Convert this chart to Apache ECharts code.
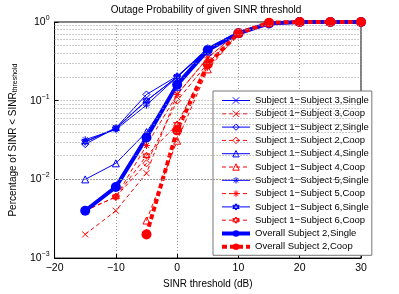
<!DOCTYPE html>
<html><head><meta charset="utf-8">
<script src="https://cdn.jsdelivr.net/npm/echarts@6/dist/echarts.min.js"></script>
<style>html,body{margin:0;padding:0;background:#fff}#c{width:399px;height:294px}</style>
</head><body><div id="c"></div>
<script>
const snr = [-15, -10, -5, 0, 5, 10, 15, 20, 25, 30];
const s3Single = [0.030, 0.045, 0.100, 0.200, 0.45, 0.75, 0.97, 1, 1, 1];
const s3Coop   = [0.002, 0.004, 0.012, 0.120, 0.35, 0.75, 0.97, 1, 1, 1];
const s2Single = [0.028, 0.045, 0.120, 0.205, 0.45, 0.75, 0.97, 1, 1, 1];
const s2Coop   = [null,  0.006, 0.016, 0.100, 0.30, 0.72, 0.97, 1, 1, 1];
const s4Single = [0.010, 0.016, 0.040, 0.150, 0.42, 0.72, 0.97, 1, 1, 1];
const s4Coop   = [null,  null,  0.003, 0.031, 0.25, 0.72, 0.97, 1, 1, 1];
const s5Single = [0.032, 0.043, 0.088, 0.200, 0.47, 0.75, 0.97, 1, 1, 1];
const s5Coop   = [0.004, 0.006, 0.027, 0.120, 0.35, 0.75, 0.97, 1, 1, 1];
const s6Single = [0.030, 0.044, 0.100, 0.200, 0.45, 0.75, 0.97, 1, 1, 1];
const s6Coop   = [0.004, 0.006, 0.020, 0.050, 0.30, 0.72, 0.97, 1, 1, 1];
const allSingle = [0.004, 0.008, 0.034, 0.160, 0.44, 0.72, 0.96, 1, 1, 1];
const allCoop   = [null,  null,  0.002, 0.042, 0.29, 0.72, 0.98, 1, 1, 1];
const xTicks = [-20, -10, 0, 10, 20, 30];
const yDecades = [0.001, 0.01, 0.1, 1];

const BLUE = '#0000ff', RED = '#ff0000';
const FONT = 'Liberation Sans';
const SYM = {
  cross: 'path://M0,0L10,10M10,0L0,10',
  aster: 'path://M5,0L5,10M0,5L10,5M1.5,1.5L8.5,8.5M8.5,1.5L1.5,8.5',
  hexa: 'path://M5,0L9.33,7.5L0.67,7.5ZM5,10L0.67,2.5L9.33,2.5Z'
};
function pts(arr){ return snr.map((x,i)=>[x, arr[i]]); }
function dashOf(dashed, width){ return dashed ? (width>2 ? [5,3] : [4,3]) : 'solid'; }
function mk(name, arr, color, dashed, symbol, size, width, filled){
  return {
    name, type:'line', data: pts(arr), color, clip:false, connectNulls:false,
    symbol, symbolSize: size,
    lineStyle:{color, width, type: dashOf(dashed, width)},
    itemStyle: filled ? {color, borderColor: color, borderWidth:0}
                      : {color: 'rgba(0,0,0,0)', borderColor: color, borderWidth: 1},
    emphasis:{disabled:true}
  };
}
const minor = [];
for (let d = 0; d < 3; d++) for (let k = 2; k <= 9; k++) minor.push(k * yDecades[d]);

const names = [
 'Subject 1\u2212Subject 3,Single','Subject 1\u2212Subject 3,Coop',
 'Subject 1\u2212Subject 2,Single','Subject 1\u2212Subject 2,Coop',
 'Subject 1\u2212Subject 4,Single','Subject 1\u2212Subject 4,Coop',
 'Subject 1\u2212Subject 5,Single','Subject 1\u2212Subject 5,Coop',
 'Subject 1\u2212Subject 6,Single','Subject 1\u2212Subject 6,Coop',
 'Overall Subject 2,Single','Overall Subject 2,Coop'];
const defs = [
  [s3Single, BLUE, false, SYM.cross, 6, 1, false],
  [s3Coop,   RED,  true,  SYM.cross, 6, 1, false],
  [s2Single, BLUE, false, 'diamond', 7, 1, false],
  [s2Coop,   RED,  true,  'diamond', 7, 1, false],
  [s4Single, BLUE, false, 'triangle', 7, 1, false],
  [s4Coop,   RED,  true,  'triangle', 7, 1, false],
  [s5Single, BLUE, false, SYM.aster, 7, 1, false],
  [s5Coop,   RED,  true,  SYM.aster, 7, 1, false],
  [s6Single, BLUE, false, SYM.hexa, 7, 1, false],
  [s6Coop,   RED,  true,  SYM.hexa, 7, 1, false],
  [allSingle, BLUE, false, 'circle', 10, 4, true],
  [allCoop,   RED,  true,  'circle', 10, 4, true]
];

const series = [
  {type:'line', data:[], silent:true, markLine:{silent:true, animation:false, symbol:['none','none'], label:{show:false},
    lineStyle:{type:[1,2], color:'#999', width:1}, data: minor.map(v=>({yAxis:v}))}}
].concat(defs.map((d,i)=>mk(names[i], ...d)));

const legendData = defs.map((d,i)=>({
  name: names[i],
  lineStyle:{color:d[1], width: d[5]>2 ? 4 : 1, type: dashOf(d[2], d[5])},
  itemStyle: d[6] ? {color:d[1], borderWidth:0}
                  : {color:'rgba(0,0,0,0)', borderColor:d[1], borderWidth:1}
}));

const chart = echarts.init(document.getElementById('c'), null, {renderer:'canvas'});
chart.setOption({
  animation:false,
  backgroundColor:'#fff',
  textStyle:{fontFamily:FONT},
  title:{text:'Outage Probability of given SINR threshold', left:206, top:5, padding:0, textAlign:'center',
    textStyle:{fontFamily:FONT, fontSize:10, fontWeight:'normal', color:'#000'}},
  grid:{left:52, right:38, top:22, bottom:33, show:true, borderColor:'#000', borderWidth:1, backgroundColor:'transparent'},
  xAxis:{type:'value', min:-20, max:30, interval:10,
    name:'SINR threshold (dB)', nameLocation:'middle', nameGap:15,
    nameTextStyle:{fontFamily:FONT, fontSize:10, color:'#000'},
    axisLine:{show:true, onZero:false, lineStyle:{color:'#000', width:1}},
    axisTick:{show:true, inside:true, length:4, lineStyle:{color:'#000'}},
    axisLabel:{fontFamily:FONT, fontSize:10.5, color:'#000', margin:5,
      formatter:v=> xTicks.includes(v) ? String(v).replace('-', '\u2212') : ''},
    splitLine:{show:true, lineStyle:{type:[1,2], color:'#999', width:1}}},
  yAxis:{type:'log', logBase:10, min:0.001, max:1,
    name:'Percentage of SINR < SINR{sub|threshold}', nameLocation:'middle', nameGap:23, nameRotate:90,
    nameTextStyle:{fontFamily:FONT, fontSize:10, color:'#000', rich:{sub:{fontFamily:FONT, fontSize:7, color:'#000', padding:[5,0,0,0]}}},
    axisLine:{show:true, onZero:false, lineStyle:{color:'#000', width:1}},
    axisTick:{show:true, inside:true, length:4, lineStyle:{color:'#000'}},
    axisLabel:{fontFamily:FONT, fontSize:10.5, color:'#000', margin:5,
      formatter:v=>{ const e = Math.round(Math.log10(v)); return '10{sup|' + (e<0 ? '\u2212'+(-e) : e) + '}'; },
      rich:{sup:{fontFamily:FONT, fontSize:7, color:'#000', padding:[0,0,8,0]}}},
    splitLine:{show:true, lineStyle:{type:[1,2], color:'#999', width:1}}},
  legend:{data:legendData, orient:'vertical', left:213, top:91, padding:[4,3,3,7],
    itemWidth:28, itemHeight:8, itemGap:2.3,
    backgroundColor:'#fff', borderColor:'#777', borderWidth:1, borderRadius:0,
    selectedMode:false,
    textStyle:{fontFamily:FONT, fontSize:9.5, color:'#000', padding:0, lineHeight:11}},
  series
});
</script></body></html>
